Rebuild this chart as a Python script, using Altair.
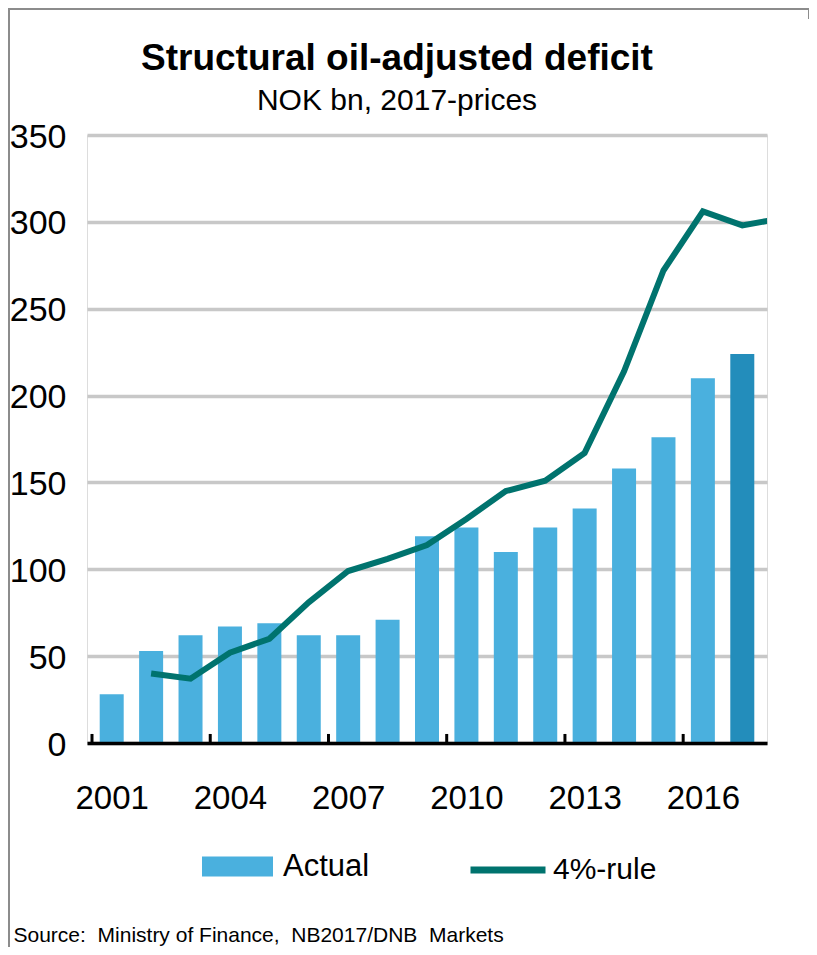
import altair as alt
import pandas as pd

# ---- data ----
years = list(range(2001, 2018))
actual = [28, 53, 62, 67, 69, 62, 62, 71, 119, 124, 110, 124, 135, 158, 176, 210, 224]
rule_years = list(range(2002, 2019))
rule_vals = [40, 37, 52, 60, 81, 99, 106, 114, 129, 145, 151, 167, 214, 272, 306, 298, 302]
label_years = [2001, 2004, 2007, 2010, 2013, 2016]
tick_bounds = [2000.5, 2003.5, 2006.5, 2009.5, 2012.5, 2015.5]
y_values = [0, 50, 100, 150, 200, 250, 300, 350]

FONT = "Liberation Sans, Arial, sans-serif"
BLUE = "#4ab0de"
DARK = "#238dbb"
TEAL = "#00736e"
GRID = "#c8c8c8"

W, H = 680, 608
PAD = {"left": 79, "top": 127, "right": 42, "bottom": 204}

bars_df = pd.DataFrame({"year": years, "value": actual, "series": ["Actual"] * len(years)})
line_df = pd.DataFrame({"year": rule_years, "value": rule_vals, "series": ["4%-rule"] * len(rule_years)})
ticks_df = pd.DataFrame({"pos": tick_bounds, "lo": [0] * len(tick_bounds), "hi": [5.2] * len(tick_bounds)})
one = pd.DataFrame({"a": [0]})

x_scale = alt.Scale(domain=[2000.5, 2017.5], nice=False, zero=False)
y_scale = alt.Scale(domain=[0, 350], nice=False)

x_axis = alt.Axis(
    values=label_years, format="d", ticks=False, grid=False,
    domainColor="black", domainWidth=3.5, zindex=1,
    labelFont=FONT, labelFontSize=33, labelColor="black", labelPadding=39,
    labelFlush=False, labelOverlap=False,
    title="Source:\u00a0 Ministry of Finance,\u00a0 NB2017/DNB\u00a0 Markets",
    titleFont=FONT, titleFontSize=21, titleFontWeight="normal", titleColor="black",
    titleAnchor="start", titleAlign="left", titleBaseline="alphabetic",
    titleX=-74, titleY=198,
)
y_axis = alt.Axis(
    values=y_values, grid=True, gridColor=GRID, gridWidth=3.5,
    domain=False, ticks=False,
    labelFont=FONT, labelFontSize=34, labelColor="black", labelPadding=21,
    labelBaseline="middle", labelOffset=2, title=None,
)

bars = alt.Chart(bars_df).mark_bar(size=24).encode(
    x=alt.X("year:Q", scale=x_scale, axis=x_axis),
    y=alt.Y("value:Q", scale=y_scale, axis=y_axis),
    fill=alt.condition(
        alt.datum.year == 2017,
        alt.value(DARK),
        alt.Fill("series:N", scale=alt.Scale(domain=["Actual"], range=[BLUE]),
                 legend=alt.Legend(
                     title=None, orient="none", legendX=115, legendY=696,
                     padding=0, symbolType="M-1,-0.28L1,-0.28L1,0.28L-1,0.28Z",
                     symbolSize=5041, symbolStrokeWidth=0, symbolOpacity=1,
                     labelFont=FONT, labelFontSize=31, labelColor="black",
                     labelOffset=10, labelLimit=300)),
    ),
)

line = alt.Chart(line_df).mark_line(strokeWidth=6, clip=True).encode(
    x=alt.X("year:Q", scale=x_scale),
    y=alt.Y("value:Q", scale=y_scale),
    stroke=alt.Stroke("series:N", scale=alt.Scale(domain=["4%-rule"], range=[TEAL]),
                      legend=alt.Legend(
                          title=None, orient="none", legendX=380, legendY=694,
                          padding=0, symbolType="stroke", symbolSize=5625,
                          symbolStrokeWidth=7,
                          labelFont=FONT, labelFontSize=30, labelColor="black",
                          labelOffset=4, labelLimit=300)),
)

ticks = alt.Chart(ticks_df).mark_rule(color="black", strokeWidth=3).encode(
    x=alt.X("pos:Q", scale=x_scale),
    y=alt.Y("lo:Q", scale=y_scale),
    y2="hi:Q",
)

frame_left = alt.Chart(one).mark_rule(color="#8c8c8c", strokeWidth=2).encode(
    x=alt.value(-78), y=alt.value(-127), y2=alt.value(H + 204)
)
frame_top = alt.Chart(one).mark_rule(color="#8c8c8c", strokeWidth=2).encode(
    y=alt.value(-126), x=alt.value(-79), x2=alt.value(722)
)
frame_right = alt.Chart(one).mark_rule(color="#8c8c8c", strokeWidth=2).encode(
    x=alt.value(722), y=alt.value(-127), y2=alt.value(-116)
)

chart = alt.layer(bars, line, ticks, frame_left, frame_top, frame_right).resolve_legend(
    fill="independent", stroke="independent"
).properties(
    width=W, height=H,
    padding=PAD,
    autosize=alt.AutoSizeParams(type="none"),
    title=alt.TitleParams(
        text="Structural oil-adjusted deficit",
        subtitle="NOK bn, 2017-prices",
        font=FONT, fontSize=37, fontWeight="bold", color="black",
        subtitleFont=FONT, subtitleFontSize=30, subtitleColor="black",
        subtitlePadding=8, anchor="middle", frame="group", dx=-30, dy=114, offset=4,
    ),
).configure_view(stroke=None).configure(background="white")

chart.save("out.html", embed_options={"renderer": "svg", "actions": False})
